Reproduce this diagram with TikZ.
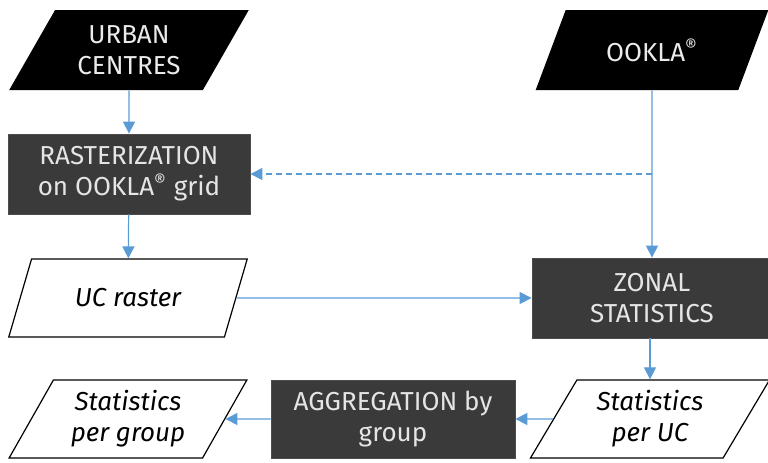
\documentclass[tikz,border=0pt]{standalone}
\usepackage{fontspec}
\setmainfont{Fira Sans}
\usetikzlibrary{shapes.geometric,arrows.meta,positioning}
\definecolor{flowblue}{HTML}{5B9BD5}
\definecolor{boxgray}{HTML}{3A3A3A}
\newcommand{\flowfont}{\fontsize{13}{15.5}\selectfont}
\tikzset{
  inputpara/.style={trapezium, trapezium left angle=58, trapezium right angle=122,
    trapezium stretches=true, fill=black, text=white!92!black, align=center,
    minimum width=120pt, minimum height=40pt, inner sep=1pt},
  datapara/.style={trapezium, trapezium left angle=60, trapezium right angle=120,
    trapezium stretches=true, draw=black, line width=0.6pt, fill=white, align=center,
    minimum width=120pt, minimum height=39pt, inner sep=1pt, font=\flowfont\itshape},
  procbox/.style={rectangle, draw=black!70, fill=boxgray, text=white!90!black,
    align=center, minimum width=121pt, minimum height=40pt, inner sep=1pt},
  flow/.style={flowblue, line width=0.6pt, -{Triangle[length=6pt,width=6pt]}}
}
\begin{document}
\begin{tikzpicture}[x=0.5pt, y=-0.5pt, font=\flowfont]
    \useasboundingbox (0,0) rectangle (768,462);
    % inputs
    \node[inputpara] (urban) at (129,50) {URBAN\\CENTRES};
    \node[inputpara, minimum width=117pt] (ookla) at (652,50) {OOKLA\textsuperscript{®}};
    % processing
    \node[procbox] (raster) at (129,174) {RASTERIZATION\\on OOKLA\textsuperscript{®} grid};
    \node[datapara] (ucraster) at (128,298) {UC raster};
    \node[procbox, minimum width=120pt] (zonal) at (652,298) {ZONAL\\STATISTICS};
    \node[datapara] (statuc) at (650,419) {Statistics\\per UC};
    \node[procbox, minimum width=122pt, minimum height=39pt] (aggr) at (393,419) {AGGREGATION by\\group};
    \node[datapara] (statgrp) at (128,419) {Statistics\\per group};
    % connectors
    \coordinate (branch) at (ookla.south |- raster.east);
    \draw[flow] (urban) -- (raster);
    \draw[flow] (raster) -- (ucraster);
    \draw[flow] (ookla) -- (zonal);
    \draw[flow, dashed, dash pattern=on 3pt off 2pt] (branch) -- (raster.east);
    \draw[flow] (ucraster.east) -- (zonal.west);
    \draw[flow] (zonal.south -| statuc.north) -- (statuc.north);
    \draw[flow] (statuc.west) -- (aggr.east);
    \draw[flow] (aggr.west) -- (statgrp.east);
\end{tikzpicture}
\end{document}
